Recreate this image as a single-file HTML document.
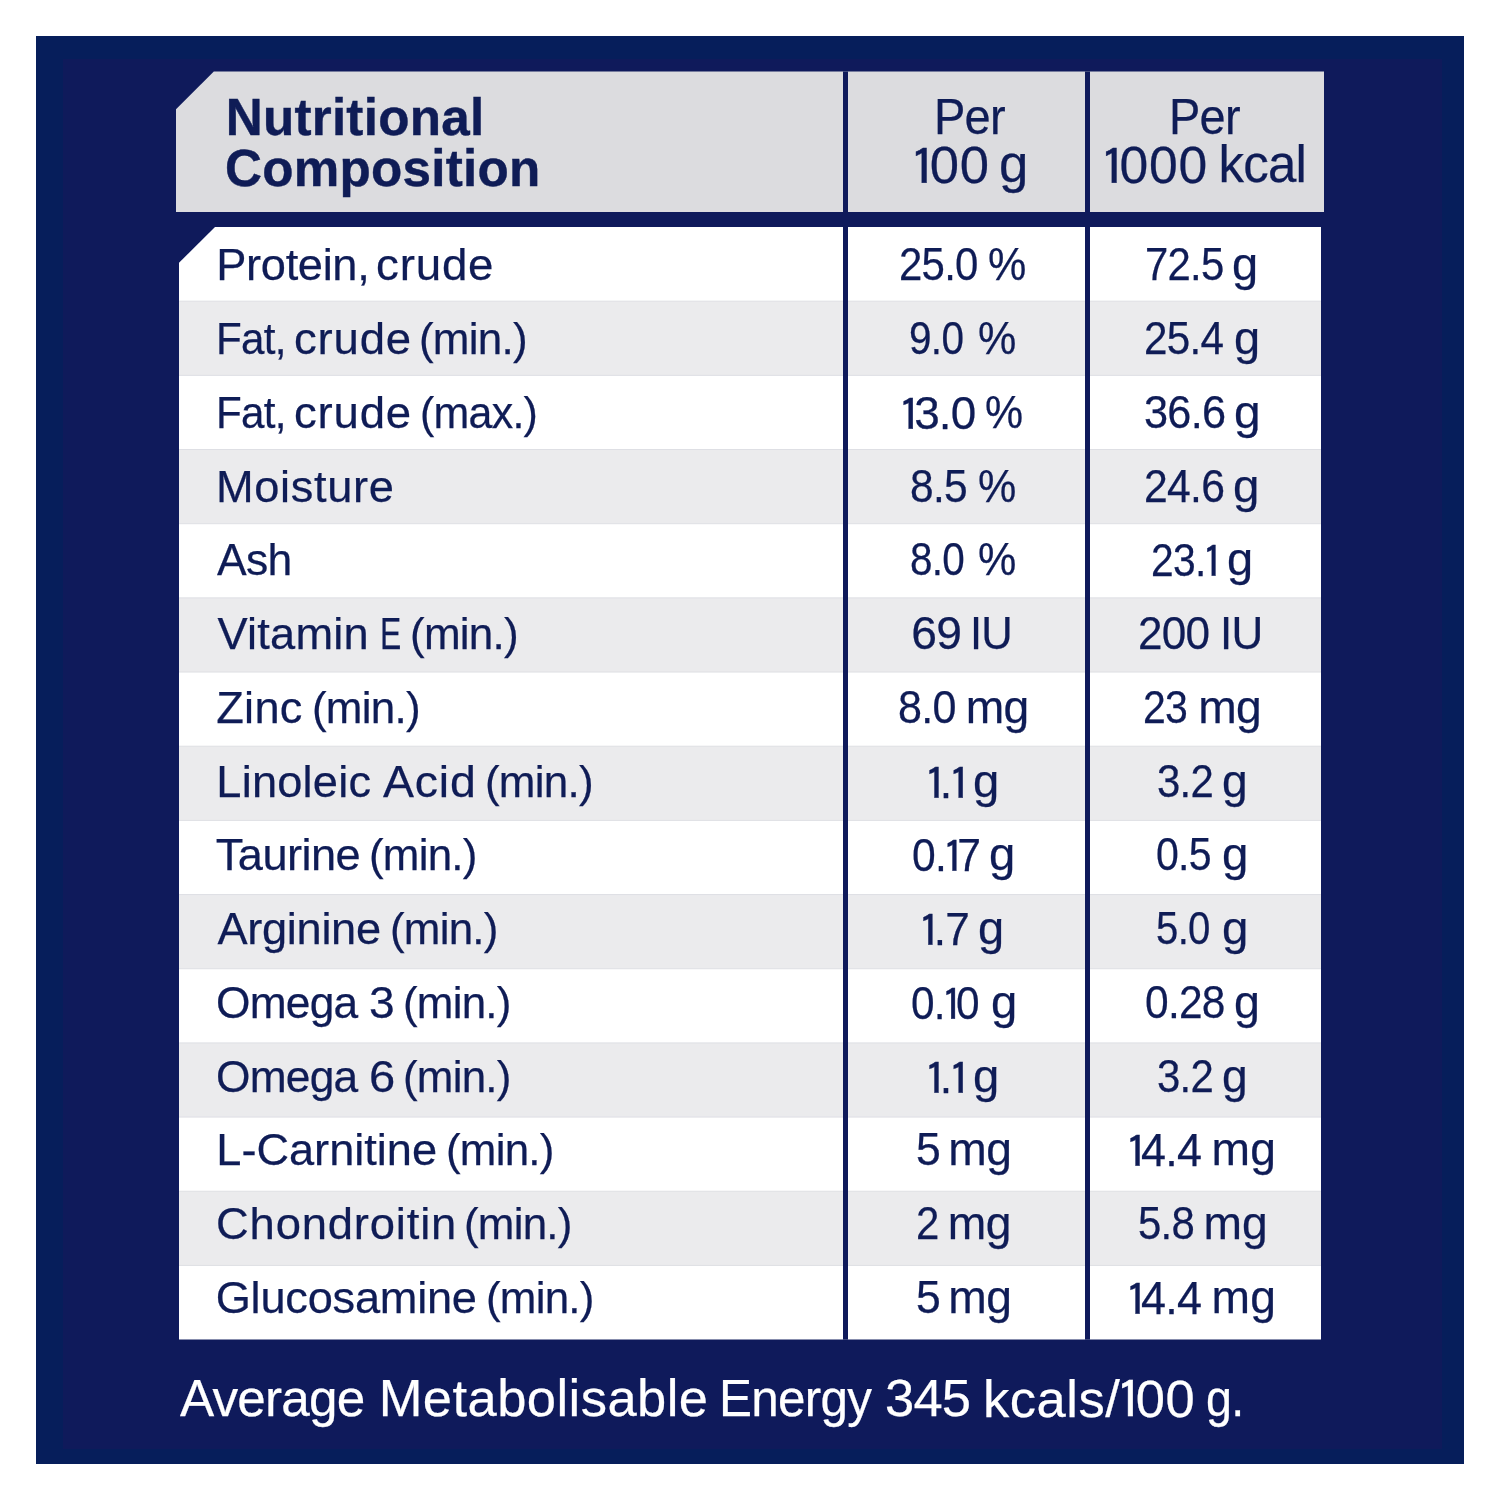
<!DOCTYPE html>
<html lang="en"><head><meta charset="utf-8"><title>Nutritional Composition</title>
<style>
html,body{margin:0;padding:0;background:#fff;}
body{width:1500px;height:1500px;position:relative;overflow:hidden;font-family:"Liberation Sans",Arial,sans-serif;color:#0f1c56;}
#bg{position:absolute;left:0;top:0;}
.l{position:absolute;left:0;width:1500px;white-space:nowrap;}
.l>span{position:absolute;top:0;transform-origin:0 0;}
body{-webkit-text-stroke:.25px}.o{font-family:IPAGothic,"Liberation Sans",sans-serif;font-size:.96em;-webkit-text-stroke:.009em;position:relative;top:.036em;display:inline-block;transform:scaleX(1.1);margin:0 -.146em 0 -.06em}
</style></head><body>
<svg id="bg" width="1500" height="1500" viewBox="0 0 1500 1500">
<rect x="36" y="36" width="1428" height="1428" fill="#061e5b"/>
<rect x="63" y="59" width="1379" height="1390" fill="#0f1a5b"/>
<polygon points="213.8,71.5 1324,71.5 1324,212 176,212 176,109.3" fill="#dcdcdf"/>
<polygon points="215,227 1321,227 1321,1339.6 179,1339.6 179,262.8" fill="#fff"/>
<rect x="179" y="301.17" width="1142" height="74.17" fill="#ebebed"/>
<rect x="179" y="449.52" width="1142" height="74.17" fill="#ebebed"/>
<rect x="179" y="597.87" width="1142" height="74.17" fill="#ebebed"/>
<rect x="179" y="746.21" width="1142" height="74.17" fill="#ebebed"/>
<rect x="179" y="894.56" width="1142" height="74.17" fill="#ebebed"/>
<rect x="179" y="1042.91" width="1142" height="74.17" fill="#ebebed"/>
<rect x="179" y="1191.25" width="1142" height="74.17" fill="#ebebed"/>
<rect x="179" y="300.67" width="1142" height="1" fill="#dedfe4"/>
<rect x="179" y="374.85" width="1142" height="1" fill="#dedfe4"/>
<rect x="179" y="449.02" width="1142" height="1" fill="#dedfe4"/>
<rect x="179" y="523.19" width="1142" height="1" fill="#dedfe4"/>
<rect x="179" y="597.37" width="1142" height="1" fill="#dedfe4"/>
<rect x="179" y="671.54" width="1142" height="1" fill="#dedfe4"/>
<rect x="179" y="745.71" width="1142" height="1" fill="#dedfe4"/>
<rect x="179" y="819.89" width="1142" height="1" fill="#dedfe4"/>
<rect x="179" y="894.06" width="1142" height="1" fill="#dedfe4"/>
<rect x="179" y="968.23" width="1142" height="1" fill="#dedfe4"/>
<rect x="179" y="1042.41" width="1142" height="1" fill="#dedfe4"/>
<rect x="179" y="1116.58" width="1142" height="1" fill="#dedfe4"/>
<rect x="179" y="1190.75" width="1142" height="1" fill="#dedfe4"/>
<rect x="179" y="1264.93" width="1142" height="1" fill="#dedfe4"/>
<rect x="843" y="71.5" width="5" height="1268.1" fill="#0f1a5b"/>
<rect x="1085" y="71.5" width="5" height="1268.1" fill="#0f1a5b"/>
</svg>
<div class="l" style="top:242px;font-size:45.2px;line-height:45.2px"><span style="left:216.3px;letter-spacing:-0.33px">Protein,</span> <span style="left:375.7px;letter-spacing:0.8px;transform:scaleX(1.011)">crude</span></div>
<div class="l" style="top:241px;font-size:46.2px;line-height:46.2px"><span style="left:898.6px;letter-spacing:-0.8px;transform:scaleX(0.9079)">25.0</span> <span style="left:988.3px;transform:scaleX(0.9326)">%</span></div>
<div class="l" style="top:241px;font-size:46.2px;line-height:46.2px"><span style="left:1145.0px;letter-spacing:-0.8px;transform:scaleX(0.9059)">72.5</span> <span style="left:1232.2px;transform:scaleX(1.0176)">g</span></div>
<div class="l" style="top:316px;font-size:45.2px;line-height:45.2px"><span style="left:216.3px;letter-spacing:-0.8px;transform:scaleX(0.9329)">Fat,</span> <span style="left:293.5px;letter-spacing:0.8px;transform:scaleX(1.0074)">crude</span> <span style="left:419.4px;letter-spacing:-0.8px;transform:scaleX(0.9738)">(min.)</span></div>
<div class="l" style="top:315px;font-size:46.2px;line-height:46.2px"><span style="left:909.4px;letter-spacing:-0.8px;transform:scaleX(0.8771)">9.0</span> <span style="left:977.5px;transform:scaleX(0.9326)">%</span></div>
<div class="l" style="top:315px;font-size:46.2px;line-height:46.2px"><span style="left:1144.0px;letter-spacing:-0.8px;transform:scaleX(0.9137)">25.4</span> <span style="left:1233.5px;transform:scaleX(1.0176)">g</span></div>
<div class="l" style="top:390px;font-size:45.2px;line-height:45.2px"><span style="left:216.3px;letter-spacing:-0.8px;transform:scaleX(0.9329)">Fat,</span> <span style="left:293.5px;letter-spacing:0.8px;transform:scaleX(1.0074)">crude</span> <span style="left:419.5px;letter-spacing:-0.8px;transform:scaleX(0.9503)">(max.)</span></div>
<div class="l" style="top:389px;font-size:46.2px;line-height:46.2px"><span style="left:901.8px;letter-spacing:-0.8px;transform:scaleX(0.9917)"><span class="o">1</span>3.0</span> <span style="left:985.3px;transform:scaleX(0.9274)">%</span></div>
<div class="l" style="top:389px;font-size:46.2px;line-height:46.2px"><span style="left:1143.7px;letter-spacing:-0.8px;transform:scaleX(0.9371)">36.6</span> <span style="left:1234.1px;transform:scaleX(1.0364)">g</span></div>
<div class="l" style="top:464px;font-size:45.2px;line-height:45.2px"><span style="left:215.9px;letter-spacing:0.69px">Moisture</span></div>
<div class="l" style="top:463px;font-size:46.2px;line-height:46.2px"><span style="left:909.6px;letter-spacing:-0.8px;transform:scaleX(0.9202)">8.5</span> <span style="left:977.5px;transform:scaleX(0.9326)">%</span></div>
<div class="l" style="top:463px;font-size:46.2px;line-height:46.2px"><span style="left:1144.0px;letter-spacing:-0.8px;transform:scaleX(0.9246)">24.6</span> <span style="left:1233.4px;transform:scaleX(1.027)">g</span></div>
<div class="l" style="top:537px;font-size:45.2px;line-height:45.2px"><span style="left:217.0px;letter-spacing:-0.8px;transform:scaleX(0.9853)">Ash</span></div>
<div class="l" style="top:536px;font-size:46.2px;line-height:46.2px"><span style="left:909.6px;letter-spacing:-0.8px;transform:scaleX(0.8757)">8.0</span> <span style="left:977.5px;transform:scaleX(0.9326)">%</span></div>
<div class="l" style="top:536px;font-size:46.2px;line-height:46.2px"><span style="left:1150.7px;letter-spacing:-0.8px;transform:scaleX(0.8829)">23.<span class="o">1</span></span> <span style="left:1226.9px;transform:scaleX(1.0176)">g</span></div>
<div class="l" style="top:611px;font-size:45.2px;line-height:45.2px"><span style="left:217.4px;letter-spacing:0.25px">Vitamin</span> <span style="left:380.0px;transform:scaleX(0.7046)">E</span> <span style="left:410.4px;letter-spacing:-0.8px;transform:scaleX(0.9747)">(min.)</span></div>
<div class="l" style="top:610px;font-size:46.2px;line-height:46.2px"><span style="left:911.3px;letter-spacing:-0.8px">69</span> <span style="left:970.1px;letter-spacing:-0.8px;transform:scaleX(0.9424)">IU</span></div>
<div class="l" style="top:610px;font-size:46.2px;line-height:46.2px"><span style="left:1138.2px;letter-spacing:-0.8px;transform:scaleX(0.955)">200</span> <span style="left:1220.1px;letter-spacing:-0.8px;transform:scaleX(0.9503)">IU</span></div>
<div class="l" style="top:685px;font-size:45.2px;line-height:45.2px"><span style="left:216.2px;letter-spacing:0.29px">Zinc</span> <span style="left:312.0px;letter-spacing:-0.8px;transform:scaleX(0.9738)">(min.)</span></div>
<div class="l" style="top:684px;font-size:46.2px;line-height:46.2px"><span style="left:898.1px;letter-spacing:-0.8px;transform:scaleX(0.9328)">8.0</span> <span style="left:965.7px;letter-spacing:-0.78px">mg</span></div>
<div class="l" style="top:684px;font-size:46.2px;line-height:46.2px"><span style="left:1142.6px;letter-spacing:-0.8px;transform:scaleX(0.8877)">23</span> <span style="left:1198.2px;letter-spacing:-0.58px">mg</span></div>
<div class="l" style="top:759px;font-size:45.2px;line-height:45.2px"><span style="left:216.3px;letter-spacing:0.22px">Linoleic</span> <span style="left:382.8px;letter-spacing:0.8px;transform:scaleX(1.0281)">Acid</span> <span style="left:484.6px;letter-spacing:-0.8px;transform:scaleX(0.9738)">(min.)</span></div>
<div class="l" style="top:758px;font-size:46.2px;line-height:46.2px"><span style="left:927.6px;letter-spacing:-0.8px;transform:scaleX(0.9682)"><span class="o">1</span>.<span class="o">1</span></span> <span style="left:973.4px;transform:scaleX(1.0223)">g</span></div>
<div class="l" style="top:758px;font-size:46.2px;line-height:46.2px"><span style="left:1156.5px;letter-spacing:-0.8px;transform:scaleX(0.9068)">3.2</span> <span style="left:1221.5px;transform:scaleX(0.9987)">g</span></div>
<div class="l" style="top:832px;font-size:45.2px;line-height:45.2px"><span style="left:215.8px;letter-spacing:-0.56px">Taurine</span> <span style="left:369.1px;letter-spacing:-0.8px;transform:scaleX(0.9728)">(min.)</span></div>
<div class="l" style="top:831px;font-size:46.2px;line-height:46.2px"><span style="left:912.3px;letter-spacing:-0.8px;transform:scaleX(0.9227)">0.<span class="o">1</span>7</span> <span style="left:989.4px;transform:scaleX(1.0223)">g</span></div>
<div class="l" style="top:831px;font-size:46.2px;line-height:46.2px"><span style="left:1156.4px;letter-spacing:-0.8px;transform:scaleX(0.8887)">0.5</span> <span style="left:1222.2px;transform:scaleX(1.027)">g</span></div>
<div class="l" style="top:906px;font-size:45.2px;line-height:45.2px"><span style="left:217.4px;letter-spacing:-0.3px">Arginine</span> <span style="left:390.0px;letter-spacing:-0.8px;transform:scaleX(0.9728)">(min.)</span></div>
<div class="l" style="top:905px;font-size:46.2px;line-height:46.2px"><span style="left:922.4px;letter-spacing:-0.8px;transform:scaleX(0.9557)"><span class="o">1</span>.7</span> <span style="left:978.3px;transform:scaleX(1.0176)">g</span></div>
<div class="l" style="top:905px;font-size:46.2px;line-height:46.2px"><span style="left:1156.1px;letter-spacing:-0.8px;transform:scaleX(0.8691)">5.0</span> <span style="left:1222.2px;transform:scaleX(1.027)">g</span></div>
<div class="l" style="top:980px;font-size:45.2px;line-height:45.2px"><span style="left:215.6px;letter-spacing:-0.8px;transform:scaleX(0.9808)">Omega</span> <span style="left:369.0px;transform:scaleX(1.0191)">3</span> <span style="left:402.5px;letter-spacing:-0.8px;transform:scaleX(0.9728)">(min.)</span></div>
<div class="l" style="top:979px;font-size:46.2px;line-height:46.2px"><span style="left:910.5px;letter-spacing:-0.8px;transform:scaleX(0.9169)">0.<span class="o">1</span>0</span> <span style="left:990.9px;transform:scaleX(1.0223)">g</span></div>
<div class="l" style="top:979px;font-size:46.2px;line-height:46.2px"><span style="left:1144.5px;letter-spacing:-0.8px;transform:scaleX(0.9201)">0.28</span> <span style="left:1234.1px;transform:scaleX(1.0081)">g</span></div>
<div class="l" style="top:1054px;font-size:45.2px;line-height:45.2px"><span style="left:215.6px;letter-spacing:-0.8px;transform:scaleX(0.9808)">Omega</span> <span style="left:369.3px;transform:scaleX(1.0422)">6</span> <span style="left:403.3px;letter-spacing:-0.8px;transform:scaleX(0.9728)">(min.)</span></div>
<div class="l" style="top:1053px;font-size:46.2px;line-height:46.2px"><span style="left:927.6px;letter-spacing:-0.8px;transform:scaleX(0.9682)"><span class="o">1</span>.<span class="o">1</span></span> <span style="left:973.4px;transform:scaleX(1.0223)">g</span></div>
<div class="l" style="top:1053px;font-size:46.2px;line-height:46.2px"><span style="left:1156.5px;letter-spacing:-0.8px;transform:scaleX(0.9068)">3.2</span> <span style="left:1221.5px;transform:scaleX(0.9987)">g</span></div>
<div class="l" style="top:1127px;font-size:45.2px;line-height:45.2px"><span style="left:216.3px;letter-spacing:-0.03px">L-Carnitine</span> <span style="left:445.8px;letter-spacing:-0.8px;transform:scaleX(0.9719)">(min.)</span></div>
<div class="l" style="top:1126px;font-size:46.2px;line-height:46.2px"><span style="left:915.7px;transform:scaleX(0.9638)">5</span> <span style="left:948.3px;letter-spacing:-0.58px">mg</span></div>
<div class="l" style="top:1126px;font-size:46.2px;line-height:46.2px"><span style="left:1129.0px;letter-spacing:-0.8px;transform:scaleX(0.9738)"><span class="o">1</span>4.4</span> <span style="left:1211.5px;letter-spacing:0.22px">mg</span></div>
<div class="l" style="top:1201px;font-size:45.2px;line-height:45.2px"><span style="left:215.6px;letter-spacing:0.8px;transform:scaleX(1.0051)">Chondroitin</span> <span style="left:463.9px;letter-spacing:-0.8px;transform:scaleX(0.9728)">(min.)</span></div>
<div class="l" style="top:1200px;font-size:46.2px;line-height:46.2px"><span style="left:916.0px;transform:scaleX(0.9091)">2</span> <span style="left:947.8px;letter-spacing:-0.58px">mg</span></div>
<div class="l" style="top:1200px;font-size:46.2px;line-height:46.2px"><span style="left:1137.6px;letter-spacing:-0.8px;transform:scaleX(0.9073)">5.8</span> <span style="left:1203.5px;letter-spacing:-0.08px">mg</span></div>
<div class="l" style="top:1275px;font-size:45.2px;line-height:45.2px"><span style="left:215.7px;letter-spacing:-0.24px">Glucosamine</span> <span style="left:485.7px;letter-spacing:-0.8px;transform:scaleX(0.9728)">(min.)</span></div>
<div class="l" style="top:1274px;font-size:46.2px;line-height:46.2px"><span style="left:915.7px;transform:scaleX(0.9638)">5</span> <span style="left:948.3px;letter-spacing:-0.58px">mg</span></div>
<div class="l" style="top:1274px;font-size:46.2px;line-height:46.2px"><span style="left:1129.0px;letter-spacing:-0.8px;transform:scaleX(0.9738)"><span class="o">1</span>4.4</span> <span style="left:1211.5px;letter-spacing:0.22px">mg</span></div>
<div class="l" style="top:92px;font-size:51.2px;line-height:51.2px;font-weight:bold;-webkit-text-stroke:.4px"><span style="left:225.7px;letter-spacing:0.25px">Nutritional</span></div>
<div class="l" style="top:143px;font-size:51.2px;line-height:51.2px;font-weight:bold;-webkit-text-stroke:.4px"><span style="left:224.9px;letter-spacing:0.27px">Composition</span></div>
<div class="l" style="top:92px;font-size:50.2px;line-height:50.2px"><span style="left:933.6px;letter-spacing:-0.8px;transform:scaleX(0.9363)">Per</span></div>
<div class="l" style="top:139px;font-size:51px;line-height:51px"><span style="left:914.2px;letter-spacing:0.8px;transform:scaleX(1.0314)"><span class="o">1</span>00</span> <span style="left:999.2px;transform:scaleX(1.0343)">g</span></div>
<div class="l" style="top:92px;font-size:50.2px;line-height:50.2px"><span style="left:1169.4px;letter-spacing:-0.8px;transform:scaleX(0.9349)">Per</span></div>
<div class="l" style="top:139px;font-size:51px;line-height:51px"><span style="left:1103.7px;letter-spacing:0.8px;transform:scaleX(1.0119)"><span class="o">1</span>000</span> <span style="left:1218.5px;letter-spacing:-0.8px">kcal</span></div>
<div class="l" style="top:1372px;font-size:52.5px;line-height:52.5px;color:#ffffff"><span style="left:180.3px;letter-spacing:-0.8px;transform:scaleX(0.9766)">Average</span> <span style="left:378.7px;letter-spacing:0.45px">Metabolisable</span> <span style="left:718.8px;letter-spacing:-0.8px;transform:scaleX(0.9416)">Energy</span> <span style="left:885.0px;letter-spacing:-0.77px">345</span> <span style="left:983.0px;letter-spacing:0.53px">kcals/<span class="o">1</span>00</span> <span style="left:1206.1px;letter-spacing:-0.8px;transform:scaleX(0.8872)">g.</span></div>
</body></html>
